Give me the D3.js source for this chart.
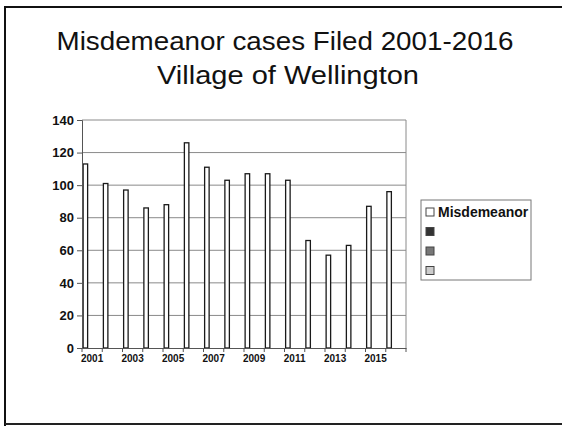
<!DOCTYPE html>
<html>
<head>
<meta charset="utf-8">
<script src="https://cdn.jsdelivr.net/npm/d3@7"></script>
<style>
  body { margin: 0; background: #fff; }
  text { font-family: Arial, "Liberation Sans", sans-serif; }
</style>
</head>
<body>
<div id="main"></div>
<script>
// data
const years = ['2001', '2002', '2003', '2004', '2005', '2006', '2007', '2008',
    '2009', '2010', '2011', '2012', '2013', '2014', '2015', '2016'];
const misdemeanor = [113, 101, 97, 86, 88, 126, 111, 103, 107, 107, 103, 66, 57, 63, 87, 96];
const seriesNames = ['Misdemeanor', 'Series 2', 'Series 3', 'Series 4'];
const seriesLabels = ['Misdemeanor', '', '', ''];
const seriesColors = ['#ffffff', '#333333', '#777777', '#cccccc'];
const yTicks = [0, 20, 40, 60, 80, 100, 120, 140];
const titleLines = ['Misdemeanor cases Filed 2001-2016', 'Village of Wellington'];

const width = 562, height = 426;
const plot = { left: 82, right: 406, top: 120, bottom: 348 };
// the scanned slide is a bit wider than tall, so title text is stretched to fit
const titleBox = [{ x: 285, y: 50, w: 457 }, { x: 288, y: 84, w: 262 }];

const svg = d3.select('#main')
    .append('svg')
    .attr('width', width)
    .attr('height', height);

// slide frame
svg.append('path')
    .attr('d', `M5,${height} V7 H${width}`)
    .attr('fill', 'none')
    .attr('stroke', '#111')
    .attr('stroke-width', 2);
svg.append('line')
    .attr('x1', 5).attr('x2', width)
    .attr('y1', 424).attr('y2', 424)
    .attr('stroke', '#222')
    .attr('stroke-width', 2);

// title
svg.selectAll('.title')
    .data(titleLines)
    .enter()
    .append('text')
    .attr('class', 'title')
    .attr('x', (d, i) => titleBox[i].x)
    .attr('y', (d, i) => titleBox[i].y)
    .attr('text-anchor', 'middle')
    .attr('font-size', 25)
    .attr('textLength', (d, i) => titleBox[i].w)
    .attr('lengthAdjust', 'spacingAndGlyphs')
    .attr('fill', '#111')
    .text(d => d);

const xScale = d3.scaleBand()
    .domain(years)
    .range([plot.left, plot.right]);

const subScale = d3.scaleBand()
    .domain(seriesNames)
    .range([0, xScale.bandwidth()])
    .paddingOuter(0.25);

const yScale = d3.scaleLinear()
    .domain([0, 140])
    .range([plot.bottom, plot.top]);

// gridlines
svg.append('g')
    .selectAll('line')
    .data(yTicks.slice(1))
    .enter()
    .append('line')
    .attr('x1', plot.left)
    .attr('x2', plot.right)
    .attr('y1', d => yScale(d))
    .attr('y2', d => yScale(d))
    .attr('stroke', '#8a8a8a')
    .attr('stroke-width', 1);

// plot area right border
svg.append('line')
    .attr('x1', plot.right).attr('x2', plot.right)
    .attr('y1', plot.top).attr('y2', plot.bottom)
    .attr('stroke', '#8a8a8a');

// bars
svg.append('g')
    .selectAll('rect')
    .data(misdemeanor)
    .enter()
    .append('rect')
    .attr('x', (d, i) => xScale(years[i]) + subScale('Misdemeanor'))
    .attr('y', d => yScale(d))
    .attr('width', subScale.bandwidth())
    .attr('height', d => plot.bottom - yScale(d))
    .attr('fill', '#fff')
    .attr('stroke', '#1a1a1a')
    .attr('stroke-width', 1.3);

// y axis
const yAxis = svg.append('g')
    .attr('transform', `translate(${plot.left}, 0)`)
    .call(d3.axisLeft(yScale).tickValues(yTicks).tickSize(5).tickPadding(3));
yAxis.select('.domain').attr('stroke', '#555');
yAxis.selectAll('.tick line').attr('stroke', '#555');
yAxis.selectAll('text')
    .attr('font-size', 13)
    .attr('font-weight', 'bold')
    .attr('fill', '#111')
    .style('font-family', 'Arial, "Liberation Sans", sans-serif');

// x axis: ticks between categories, labels every other year
const xAxis = svg.append('g')
    .attr('transform', `translate(0, ${plot.bottom})`)
    .call(d3.axisBottom(xScale).tickSize(0).tickPadding(7)
        .tickFormat((d, i) => i % 2 === 0 ? d : ''));
xAxis.select('.domain').attr('stroke', '#555');
xAxis.selectAll('text')
    .attr('font-size', 10)
    .attr('font-weight', 'bold')
    .attr('fill', '#111')
    .style('font-family', 'Arial, "Liberation Sans", sans-serif');
xAxis.append('g')
    .selectAll('line')
    .data(years.concat(['end']))
    .enter()
    .append('line')
    .attr('x1', (d, i) => plot.left + i * xScale.step())
    .attr('x2', (d, i) => plot.left + i * xScale.step())
    .attr('y1', 0)
    .attr('y2', 4)
    .attr('stroke', '#555');

// legend
const legend = svg.append('g')
    .attr('transform', 'translate(421, 200)');
legend.append('rect')
    .attr('width', 110)
    .attr('height', 80)
    .attr('fill', '#fff')
    .attr('stroke', '#777');
const items = legend.selectAll('.item')
    .data(seriesNames)
    .enter()
    .append('g')
    .attr('transform', (d, i) => `translate(5, ${12 + i * 19.5})`);
items.append('rect')
    .attr('x', 0)
    .attr('y', -4)
    .attr('width', 8)
    .attr('height', 8)
    .attr('fill', (d, i) => seriesColors[i])
    .attr('stroke', '#444');
items.append('text')
    .attr('x', 12)
    .attr('y', 5)
    .attr('font-size', 14)
    .attr('font-weight', 'bold')
    .attr('fill', '#111')
    .text((d, i) => seriesLabels[i]);
</script>
</body>
</html>
